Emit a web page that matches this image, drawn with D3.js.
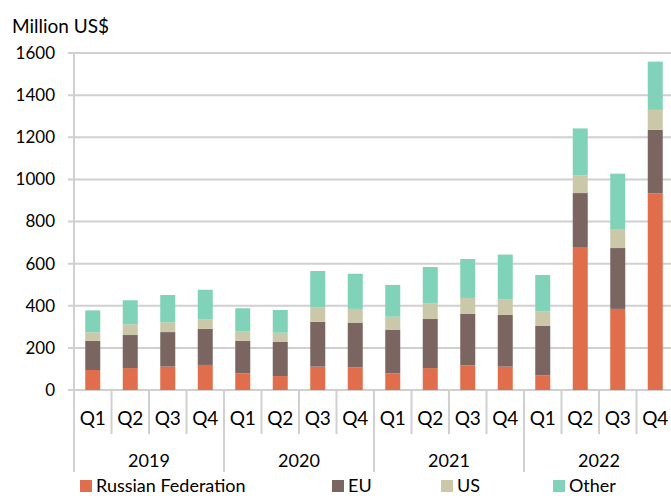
<!DOCTYPE html>
<html>
<head>
<meta charset="utf-8">
<script src="https://cdn.jsdelivr.net/npm/d3@7"></script>
<style>
  body { margin: 0; background: #fff; }
  text { font-family: Lato, "Open Sans", sans-serif; fill: #000; }
</style>
</head>
<body>
<div id="chart"></div>
<script>
// quarters and years
var years = ["2019", "2020", "2021", "2022"];
var quarters = ["Q1", "Q2", "Q3", "Q4"];
var seriesNames = ["Russian Federation", "EU", "US", "Other"];

// values in million US$, one per quarter, 2019Q1 .. 2022Q4
var russia = [95, 104, 111, 119, 79, 66, 111, 108, 79, 104, 117, 111, 70, 679, 385, 934];
var eu     = [138, 157, 164, 171, 154, 162, 213, 212, 206, 233, 244, 245, 234, 256, 289, 301];
var us     = [41, 51, 46, 46, 46, 44, 69, 65, 63, 75, 76, 75, 70, 84, 87, 95];
var other  = [104, 114, 130, 140, 109, 108, 172, 167, 151, 172, 185, 212, 172, 223, 266, 229];

var yTicks = [0, 200, 400, 600, 800, 1000, 1200, 1400, 1600];
var colors = ["#e06d4b", "#7a6561", "#cbc8a9", "#80d2b9"];

var width = 671, height = 496;
var plotLeft = 74, plotRight = 674, plotTop = 53, plotBottom = 390;

var keys = [];
years.forEach(function(y) {
	quarters.forEach(function(q) { keys.push(y + "-" + q); });
});

var rows = keys.map(function(k, i) {
	return { key: k, q: k.split("-")[1], "Russian Federation": russia[i], EU: eu[i], US: us[i], Other: other[i] };
});

var stacked = d3.stack().keys(seriesNames)(rows);

var x = d3.scaleBand().domain(keys).range([plotLeft, plotRight]).paddingInner(0.6).paddingOuter(0.3);
var y = d3.scaleLinear().domain([0, 1600]).range([plotBottom, plotTop]);

var svg = d3.select("#chart").append("svg")
	.attr("width", width)
	.attr("height", height);

// gridlines
svg.append("g").selectAll("line")
	.data(yTicks)
	.enter().append("line")
	.attr("x1", plotLeft - 6)
	.attr("x2", width)
	.attr("y1", function(d) { return y(d); })
	.attr("y2", function(d) { return y(d); })
	.attr("stroke", "#d0d0d0")
	.attr("stroke-width", 2);

// y tick labels
svg.append("g").selectAll("text")
	.data(yTicks)
	.enter().append("text")
	.attr("x", 55)
	.attr("y", function(d) { return y(d); })
	.attr("dy", "0.35em")
	.attr("text-anchor", "end")
	.attr("font-size", "17px")
	.text(function(d) { return d; });

svg.append("text")
	.attr("x", 12)
	.attr("y", 33)
	.attr("font-size", "19px")
	.text("Million US$");

// bars
svg.append("g").selectAll("g")
	.data(stacked)
	.enter().append("g")
	.attr("fill", function(d, i) { return colors[i]; })
	.selectAll("rect")
	.data(function(d) { return d; })
	.enter().append("rect")
	.attr("x", function(d) { return x(d.data.key); })
	.attr("width", x.bandwidth())
	.attr("y", function(d) { return y(d[1]); })
	.attr("height", function(d) { return y(d[0]) - y(d[1]); });

// vertical axis line
svg.append("line")
	.attr("x1", plotLeft).attr("x2", plotLeft)
	.attr("y1", plotTop).attr("y2", 472)
	.attr("stroke", "#d0d0d0").attr("stroke-width", 2);

// category separators
var step = x.step();
var seps = d3.range(1, keys.length + 1);
svg.append("g").selectAll("line")
	.data(seps)
	.enter().append("line")
	.attr("x1", function(d) { return plotLeft + d * step; })
	.attr("x2", function(d) { return plotLeft + d * step; })
	.attr("y1", plotBottom)
	.attr("y2", function(d) { return d % 4 == 0 ? 472 : 434; })
	.attr("stroke", "#d0d0d0")
	.attr("stroke-width", 2);

// quarter labels
svg.append("g").selectAll("text")
	.data(rows)
	.enter().append("text")
	.attr("x", function(d) { return x(d.key) + x.bandwidth() / 2; })
	.attr("y", 418)
	.attr("dy", "0.35em")
	.attr("text-anchor", "middle")
	.attr("font-size", "19px")
	.text(function(d) { return d.q; });

// year labels
svg.append("g").selectAll("text")
	.data(years)
	.enter().append("text")
	.attr("x", function(d, i) { return plotLeft + (i * 4 + 2) * step; })
	.attr("y", 461)
	.attr("dy", "0.35em")
	.attr("text-anchor", "middle")
	.attr("font-size", "18px")
	.text(function(d) { return d; });

// legend
var legendX = [80, 332, 441, 553];
var legend = svg.append("g").selectAll("g")
	.data(seriesNames)
	.enter().append("g")
	.attr("transform", function(d, i) { return "translate(" + legendX[i] + ",480)"; });

legend.append("rect")
	.attr("width", 12)
	.attr("height", 12)
	.attr("fill", function(d, i) { return colors[i]; });

legend.append("text")
	.attr("x", 16)
	.attr("y", 6)
	.attr("dy", "0.35em")
	.attr("font-size", "18px")
	.text(function(d) { return d; });
</script>
</body>
</html>
